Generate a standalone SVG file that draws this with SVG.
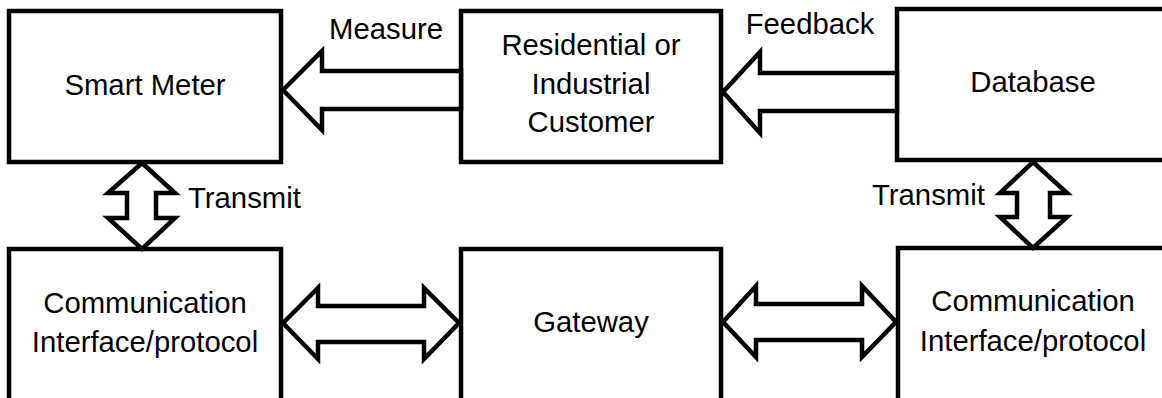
<svg xmlns="http://www.w3.org/2000/svg" width="1162" height="398" viewBox="0 0 1162 398">
  <style>
    .box { fill: #ffffff; stroke: #000000; stroke-width: 4.5; }
    .arrow { fill: #ffffff; stroke: #000000; stroke-width: 4.5; stroke-linejoin: miter; stroke-miterlimit: 10; }
    text { font-family: "Liberation Sans", Arial, sans-serif; font-size: 29.3px; fill: #000000; }
    .c { text-anchor: middle; }
  </style>
  <rect width="1162" height="398" fill="#ffffff"/>

  <g id="smart-meter">
    <rect class="box" x="9" y="11" width="272" height="151"/>
    <text class="c" x="145" y="95">Smart Meter</text>
  </g>

  <g id="customer">
    <rect class="box" x="461" y="11" width="260" height="151"/>
    <text class="c" x="591" y="55">Residential or</text>
    <text class="c" x="591" y="94">Industrial</text>
    <text class="c" x="591" y="132">Customer</text>
  </g>

  <g id="database">
    <rect class="box" x="897" y="9" width="280" height="151"/>
    <text class="c" x="1033" y="92">Database</text>
  </g>

  <g id="comm-left">
    <rect class="box" x="9" y="249" width="272" height="160"/>
    <text class="c" x="145" y="313">Communication</text>
    <text class="c" x="145" y="352">Interface/protocol</text>
  </g>

  <g id="gateway">
    <rect class="box" x="461" y="249" width="260" height="160"/>
    <text class="c" x="591" y="332">Gateway</text>
  </g>

  <g id="comm-right">
    <rect class="box" x="898" y="248" width="280" height="160"/>
    <text class="c" x="1033" y="311">Communication</text>
    <text class="c" x="1033" y="351">Interface/protocol</text>
  </g>

  <g id="connectors">
    <!-- Measure: customer to smart meter -->
    <polygon class="arrow" points="283,90 322,51 322,71 461,71 461,109 322,109 322,130"/>
    <text x="386" y="39" class="c">Measure</text>

    <!-- Feedback: database to customer -->
    <polygon class="arrow" points="723,92 760,52 760,73 897,73 897,111 760,111 760,133"/>
    <text x="810" y="34" class="c">Feedback</text>

    <!-- Transmit: smart meter to left interface -->
    <polygon class="arrow" points="142,163 175,193 156,193 156,218 175,218 142,249 108,218 127,218 127,193 108,193"/>
    <text x="188" y="208">Transmit</text>

    <!-- Transmit: database to right interface -->
    <polygon class="arrow" points="1033,162 1067,193 1050,193 1050,217 1067,217 1033,248 1000,217 1017,217 1017,193 1000,193"/>
    <text x="872" y="205">Transmit</text>

    <!-- Left interface to gateway -->
    <polygon class="arrow" points="283,323 318,288 318,306 424,306 424,288 459,323 424,359 424,342 318,342 318,359"/>

    <!-- Gateway to right interface -->
    <polygon class="arrow" points="723,322 756,286 756,304 862,304 862,286 896,322 862,357 862,340 756,340 756,357"/>
  </g>
</svg>
